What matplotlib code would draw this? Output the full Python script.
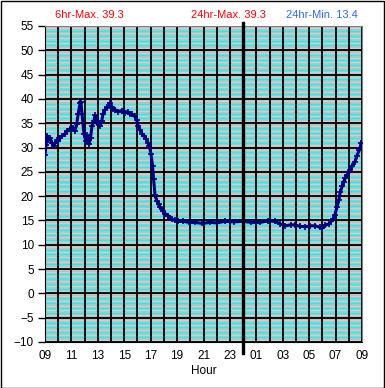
import matplotlib
matplotlib.use("Agg")
import matplotlib.pyplot as plt
from matplotlib.patches import Rectangle
import numpy as np

plt.rcParams['font.family'] = ['Liberation Sans', 'DejaVu Sans']

# hours since 09:00 and temperature readings
hours = [0.0, 0.08, 0.15, 0.25, 0.38, 0.5, 0.65, 0.76, 0.9, 1.0, 1.15, 1.3, 1.5, 1.7, 1.9, 2.1,
         2.27, 2.4, 2.52, 2.65, 2.72, 2.8, 2.95, 3.1, 3.2, 3.33, 3.45, 3.56, 3.7, 3.8, 3.9, 4.0,
         4.17, 4.3, 4.4, 4.55, 4.7, 4.85, 4.92, 5.05, 5.15, 5.3, 5.53, 5.8, 6.06, 6.25, 6.44,
         6.6, 6.8, 6.95, 7.05, 7.2, 7.35, 7.5, 7.65, 7.8, 7.9, 8.03, 8.14, 8.22, 8.33, 8.48,
         8.6, 8.7, 8.9, 9.1, 9.3, 9.47, 9.65, 9.85, 10.1, 10.45, 10.9, 11.36, 11.9, 12.5, 13.0,
         13.6, 14.3, 15.0, 15.6, 16.3, 16.9, 17.4, 17.8, 18.2, 18.6, 18.9, 19.3, 19.7, 20.1,
         20.45, 20.8, 21.0, 21.2, 21.5, 21.8, 21.95, 22.1, 22.25, 22.35, 22.5, 22.6, 22.75,
         22.9, 23.1, 23.26, 23.45, 23.6, 23.8, 23.94]
temps = [28.5, 30.5, 32.4, 31.5, 32.0, 31.0, 30.4, 30.9, 31.5, 31.3, 32.0, 32.4, 32.8, 33.4, 33.9, 34.1,
         33.4, 34.9, 37.0, 39.1, 39.3, 37.0, 32.8, 31.3, 32.5, 30.7, 32.0, 34.5, 35.5, 36.6, 35.0, 35.5,
         34.5, 35.5, 37.0, 37.8, 38.3, 38.6, 39.1, 38.3, 38.0, 37.8, 37.4, 37.6, 37.2, 37.4, 37.0,
         36.8, 36.4, 35.6, 34.5, 33.6, 32.8, 32.4, 31.8, 31.0, 30.3, 28.6, 26.1, 23.6, 20.2, 19.0,
         18.3, 17.7, 17.0, 16.4, 16.0, 15.6, 15.2, 15.0, 14.8, 14.8, 14.6, 14.6, 14.4, 14.6, 14.5,
         14.8, 14.7, 14.8, 14.6, 14.6, 14.9, 14.8, 14.3, 13.9, 14.1, 14.1, 13.8, 13.7, 13.9,
         13.9, 13.6, 13.5, 14.0, 14.3, 15.2, 16.2, 17.7, 19.2, 20.8, 22.0, 22.9, 23.8,
         24.4, 25.3, 26.1, 27.0, 28.2, 29.5, 30.9]
tick_labels = ["09", "11", "13", "15", "17", "19", "21", "23", "01", "03", "05", "07", "09"]
stats = ["6hr-Max. 39.3", "24hr-Max. 39.3", "24hr-Min. 13.4"]

W, H = 385, 388
fig = plt.figure(figsize=(W / 100, H / 100), dpi=100)
fig.patch.set_facecolor('white')
fig.add_artist(Rectangle((0.5 / W, 0.5 / H), (W - 1.5) / W, (H - 1.5) / H, transform=fig.transFigure,
                         fill=False, edgecolor='black', lw=1.0))

ax = fig.add_axes([45 / W, 46 / H, 317 / W, 316 / H])
ax.set_facecolor('#c0c0c0')
ax.set_xlim(0, 24)
ax.set_ylim(-10, 55)

# minor horizontal lines
for v in np.arange(-10, 55.01, 0.5):
    if abs(v - round(v)) > 0.1:
        ax.axhline(v, color='#d2d2d2', lw=0.6, zorder=1)
    elif int(round(v)) % 5 != 0:
        ax.axhline(v, color='#00ffff', lw=1.0, zorder=1.5)
# major grid
for v in range(-10, 56, 5):
    ax.axhline(v, color='black', lw=1.3, zorder=2)
for h in range(0, 25):
    ax.axvline(h, color='black', lw=1.3, zorder=2)

ax.plot(hours, temps, color='#000080', lw=2.2, marker='+', ms=4, mew=1.2, zorder=4)

ax.axvline(15, ymin=-11 / 316, ymax=1 + 3 / 316, color='black', lw=2.4, zorder=5, clip_on=False)

ax.set_yticks(range(-10, 56, 5))
ax.set_xticks(range(0, 25, 2))
ax.set_xticklabels(tick_labels)
ax.tick_params(axis='both', labelsize=8.5, colors='black', direction='out')
ax.tick_params(axis='y', length=5, width=1, pad=3)
ax.tick_params(axis='x', length=0, pad=6)
for s in ['left', 'bottom']:
    ax.spines[s].set_color('black')
for s in ['top', 'right']:
    ax.spines[s].set_color('#808080')
ax.set_xlabel('Hour', fontsize=8.5, labelpad=2)

fig.text(55 / W, 1 - 15 / H, stats[0], color='#ff0000', fontsize=8, va='center', ha='left')
fig.text(228 / W, 1 - 15 / H, stats[1], color='#ff0000', fontsize=8, va='center', ha='center')
fig.text(358 / W, 1 - 15 / H, stats[2], color='#3366ff', fontsize=8, va='center', ha='right')

fig.savefig('out.png', dpi=100)
